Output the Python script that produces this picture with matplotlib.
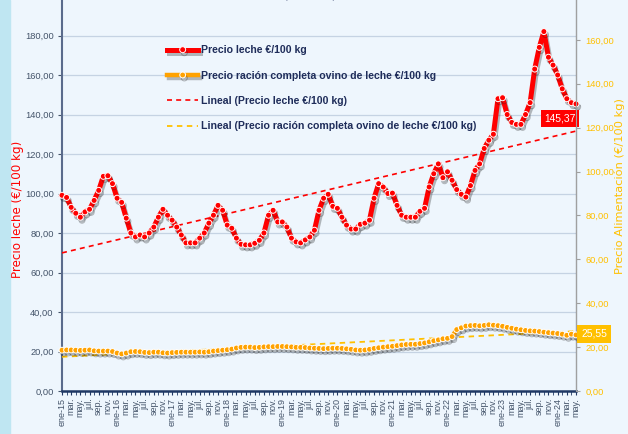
import numpy as np
import matplotlib
matplotlib.use("Agg")
import matplotlib.pyplot as plt
import matplotlib.patheffects as pe

# monthly series ene-15 .. may-24
MESES = ["ene", "feb", "mar", "abr", "may", "jun", "jul", "ago", "sep", "oct", "nov", "dic"]
N_MONTHS = 113

leche = [
    99.1, 98.0, 93.0, 90.0, 88.0, 90.7, 92.0, 96.5, 101.6, 108.7, 109.0, 105.0,   # 2015
    97.6, 95.5, 87.5, 80.0, 78.0, 79.0, 78.0, 80.0, 83.0, 88.0, 92.0, 89.0,        # 2016
    86.5, 83.0, 79.0, 75.0, 75.0, 75.0, 77.4, 80.0, 85.0, 89.0, 94.0, 91.5,        # 2017
    84.0, 82.4, 77.4, 74.3, 74.0, 74.0, 74.8, 76.3, 80.0, 89.0, 91.5, 85.6,        # 2018
    85.6, 83.0, 77.4, 75.5, 75.0, 76.5, 78.0, 81.4, 91.5, 97.6, 99.6, 93.5,        # 2019
    92.5, 88.0, 84.0, 82.0, 82.0, 84.4, 85.0, 86.5, 97.6, 105.0, 103.3, 100.0,     # 2020
    100.2, 94.0, 89.0, 88.0, 88.0, 88.0, 91.0, 92.5, 103.3, 110.0, 115.0, 108.0,   # 2021
    111.0, 106.7, 102.0, 99.6, 98.2, 104.0, 111.7, 115.0, 122.8, 127.0, 130.0, 148.0,  # 2022
    148.5, 140.0, 136.0, 135.0, 135.0, 140.0, 146.0, 163.0, 174.0, 182.0, 169.0, 165.0,  # 2023
    160.0, 153.0, 148.0, 146.0, 145.37,                                             # 2024
]

racion = [
    18.6, 18.7, 18.7, 18.6, 18.5, 18.6, 18.7, 18.3, 18.2, 18.2, 18.2, 18.0,
    17.3, 16.9, 17.3, 17.9, 18.0, 17.9, 17.6, 17.5, 17.7, 17.7, 17.4, 17.3,
    17.5, 17.6, 17.7, 17.7, 17.7, 17.7, 17.8, 17.7, 17.9, 18.2, 18.4, 18.6,
    18.8, 19.1, 19.6, 19.9, 20.0, 20.0, 19.8, 19.9, 20.1, 20.2, 20.2, 20.3,
    20.3, 20.2, 20.1, 19.9, 19.9, 19.8, 19.6, 19.5, 19.4, 19.3, 19.4, 19.5,
    19.5, 19.4, 19.2, 19.0, 18.7, 18.6, 18.7, 19.0, 19.4, 19.7, 20.0, 20.2,
    20.4, 20.7, 21.0, 21.2, 21.3, 21.3, 21.6, 21.9, 22.4, 22.9, 23.3, 23.8,
    24.0, 24.8, 28.0, 28.8, 29.6, 29.8, 29.9, 29.7, 29.9, 30.2, 30.0, 29.8,
    29.5, 29.0, 28.6, 28.2, 27.9, 27.6, 27.4, 27.3, 27.1, 26.8, 26.6, 26.4,
    26.2, 25.9, 25.4, 25.9, 25.55,
]

TITLE = "Fuente: INFOLAC, SGMPG, elaboración SGPGYC"
LBL_LECHE = "Precio leche €/100 kg"
LBL_RACION = "Precio ración completa ovino de leche €/100 kg"

NAVY = "#1f2d5a"
TICK = "#44546a"
RED = "#ff0000"
ORANGE = "#ffa200"
GOLD = "#ffc000"

SANS = ["Liberation Sans", "DejaVu Sans"]


def fmt(v):
    return f"{v:.2f}".replace(".", ",")


x = np.arange(N_MONTHS)
xlabels = []
for i in range(0, N_MONTHS, 2):
    yy = 15 + i // 12
    m = MESES[i % 12]
    xlabels.append(f"{m}-{yy}" if i % 12 == 0 else f"{m}.")

fig = plt.figure(figsize=(6.28, 4.34), dpi=100)
fig.patch.set_facecolor("#eef6fd")
fig.patches.append(plt.Rectangle((0, 0), 10 / 628, 1, transform=fig.transFigure,
                                 color="#bfe6f2", zorder=0))
ax = fig.add_axes([62 / 628, 43 / 434, 514 / 628, 395 / 434])
ax.set_facecolor("#eef6fd")
ax2 = ax.twinx()

shadow = [pe.SimpleLineShadow(offset=(1.2, -2.2), shadow_color="#202020", alpha=0.3), pe.Normal()]

l1, = ax.plot(x, leche, color=RED, lw=3.6, marker="o", ms=4.3, mfc=RED, mec="white",
              mew=0.7, clip_on=False, zorder=5, path_effects=shadow, label=LBL_LECHE)
l2, = ax2.plot(x, racion, color=ORANGE, lw=3.2, marker="o", ms=4.2, mfc=ORANGE, mec="white",
               mew=0.7, clip_on=False, zorder=5, path_effects=shadow, label=LBL_RACION)

# linear trends
c1 = np.polyfit(x, leche, 1)
t1, = ax.plot(x, np.polyval(c1, x), color=RED, lw=1.2, ls=(0, (3, 2.5)), zorder=4,
              label="Lineal (Precio leche €/100 kg)")
c2 = np.polyfit(x, racion, 1)
t2, = ax2.plot(x, np.polyval(c2, x), color=GOLD, lw=1.3, ls=(0, (3, 2.5)), zorder=3,
               label="Lineal (Precio ración completa ovino de leche €/100 kg)")

ax.set_xlim(0, N_MONTHS - 1)
ax.set_ylim(0, 200)
ax2.set_ylim(0, 180)
ax.set_yticks(np.arange(0, 181, 20))
ax2.set_yticks(np.arange(0, 161, 20))
ax.set_yticklabels([fmt(v) for v in np.arange(0, 181, 20)], family=SANS, fontsize=6.7, color=TICK)
ax2.set_yticklabels([fmt(v) for v in np.arange(0, 161, 20)], family=SANS, fontsize=6.7, color=GOLD)
ax.grid(True, axis="y", color="#c5d3e3", lw=0.9)
ax.set_axisbelow(True)

ax.set_xticks(x, minor=True)
ax.set_xticks(np.arange(0, N_MONTHS, 2))
ax.set_xticklabels(xlabels, rotation=90, fontsize=6.5, color=TICK, family=SANS)
ax.tick_params(axis="x", which="both", direction="out", length=3, color="#1f3864", pad=2)
ax.tick_params(axis="y", direction="out", length=3, color=TICK, pad=3)
ax2.tick_params(axis="y", direction="out", length=3, color="#a0a0a0", pad=4)

for a in (ax, ax2):
    a.spines["top"].set_visible(False)
ax.spines["left"].set_color("#5a6b8c")
ax.spines["left"].set_linewidth(1.5)
ax.spines["bottom"].set_color("#1f3864")
ax.spines["bottom"].set_linewidth(1.8)
ax2.spines["right"].set_color("#a0a0a0")
ax2.spines["left"].set_visible(False)
ax2.spines["bottom"].set_visible(False)

ax.set_ylabel("Precio leche (€/100 kg)", color=RED, fontsize=8.6)
ax.yaxis.set_label_coords(-0.073, 0.46)
ax2.set_ylabel("Precio Alimentación (€/100 kg)", color=GOLD, fontsize=8.2)
ax2.yaxis.set_label_coords(1.074, 0.52)

leg = ax.legend(handles=[l1, l2, t1, t2], loc="upper left", bbox_to_anchor=(0.205, 0.875),
                frameon=False, borderaxespad=0, borderpad=0, handlelength=2.9,
                labelspacing=1.45, handletextpad=0.25,
                prop=dict(family=SANS, weight="bold", size=7.6))
for t in leg.get_texts():
    t.set_color(NAVY)
leg.set_zorder(10)

ax.annotate(fmt(leche[-1]), xy=(x[-1], leche[-1]), xytext=(-16, -15), textcoords="offset pixels",
            ha="center", va="center", color="white", fontsize=7.4, family=SANS, zorder=12,
            bbox=dict(boxstyle="square,pad=0.35", fc=RED, ec="none"), annotation_clip=False)
ax2.annotate(fmt(racion[-1]), xy=(x[-1], racion[-1]), xytext=(18, 1), textcoords="offset pixels",
             ha="center", va="center", color="white", fontsize=7.4, family=SANS, zorder=12,
             bbox=dict(boxstyle="square,pad=0.35", fc=GOLD, ec="none"), annotation_clip=False)

fig.text(0.513, 1.011, TITLE, ha="center", va="center", color=NAVY, fontsize=7.8,
         weight="bold", family=SANS)

fig.savefig("out.png", dpi=100, facecolor=fig.get_facecolor())
